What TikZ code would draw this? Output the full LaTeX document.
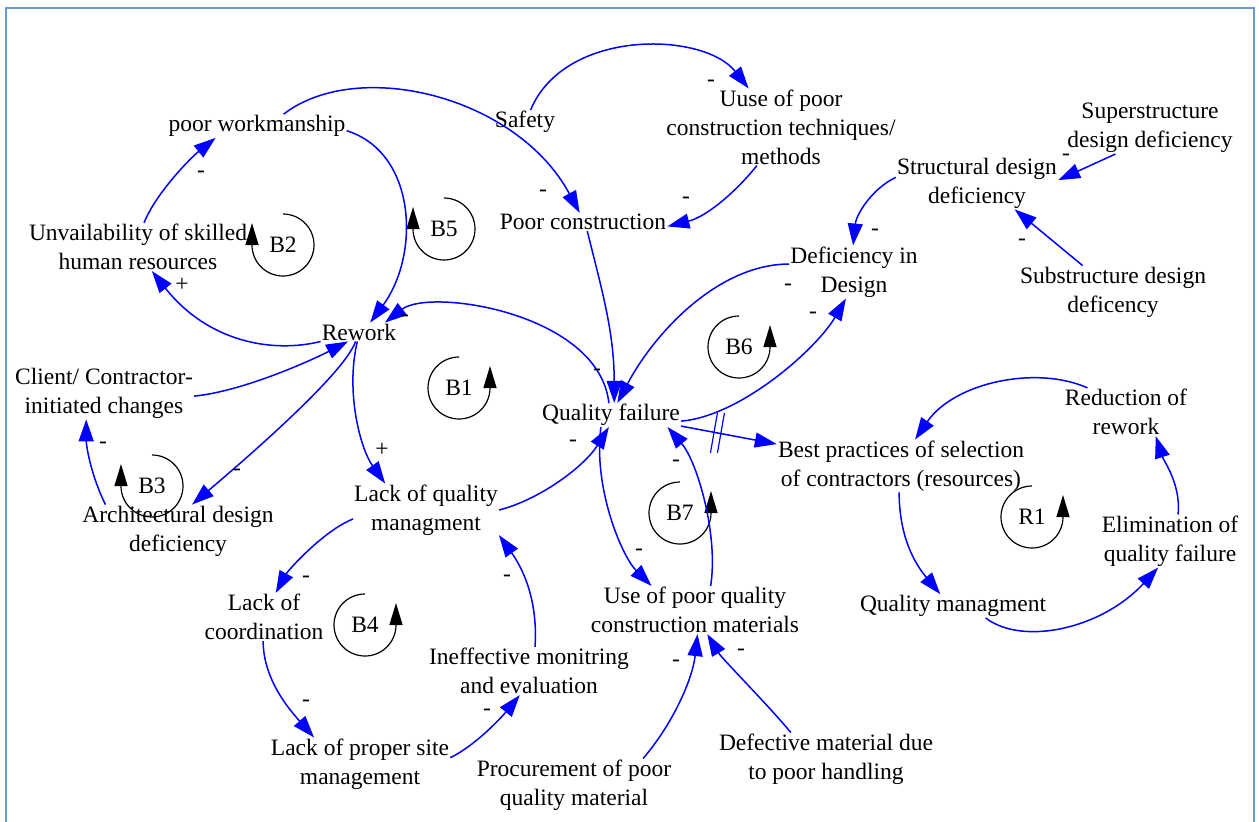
\documentclass[tikz,border=0pt]{standalone}
\usepackage{fontspec}
\setmainfont{Liberation Serif}
\usepackage{tikz}
\usetikzlibrary{arrows.meta}
\definecolor{framebl}{RGB}{108,152,210}
\tikzset{
  var/.style={align=center, inner sep=1pt, font=\fontsize{23.5}{29}\selectfont},
  pol/.style={inner sep=0pt, font=\fontsize{23.5}{29}\selectfont},
  lnk/.style={blue, line width=1.5pt, -{Triangle[length=22pt,width=15pt]}},
  loopm/.style={line width=1.2pt, -{Triangle[length=22pt,width=13pt]}},
  dlymark/.style={blue, line width=1.2pt},
}

\begin{document}
\begin{tikzpicture}[x=1pt, y=1pt]
\useasboundingbox (0,0) rectangle (1259,-822);
\draw[framebl, line width=2pt] (6,-822) -- (6,-8) -- (1254,-8) -- (1254,-822);

\node[var] (work) at (257,-126) {poor workmanship};
\node[var] (safety) at (525,-122) {Safety};
\node[var] (tech) at (781,-127) {Uuse of poor\\construction techniques/\\methods};
\node[var] (super) at (1150,-128) {Superstructure\\design deficiency};
\node[var] (struct) at (977,-183) {Structural design\\deficiency};
\node[var] (skill) at (138,-247) {Unvailability of skilled\\human resources};
\node[var] (poorcon) at (583,-222) {Poor construction};
\node[var] (defdes) at (854,-272) {Deficiency in\\Design};
\node[var] (sub) at (1113,-292) {Substructure design\\deficency};
\node[var] (rework) at (359,-332) {Rework};
\node[var] (client) at (104,-393) {Client/ Contractor-\\initiated changes};
\node[var] (qf) at (611,-415) {Quality failure};
\node[var] (reduc) at (1126,-412) {Reduction of\\rework};
\node[var] (best) at (901,-466) {Best practices of selection\\of contractors (resources)};
\node[var] (lqm) at (426,-510) {Lack of quality\\managment};
\node[var] (arch) at (178,-531) {Architectural design\\deficiency};
\node[var] (elim) at (1170,-541) {Elimination of\\quality failure};
\node[var] (coord) at (264,-617) {Lack of\\coordination};
\node[var] (usemat) at (695,-610) {Use of poor quality\\construction materials};
\node[var] (qm) at (953,-606) {Quality managment};
\node[var] (monit) at (529,-671) {Ineffective monitring\\and evaluation};
\node[var] (site) at (360,-764) {Lack of proper site\\management};
\node[var] (procure) at (574,-785) {Procurement of poor\\quality material};
\node[var] (defect) at (826,-759) {Defective material due\\to poor handling};

% loop markers
\foreach \nm/\px/\py in {B2/283/245, B5/444/229, B3/152/486}{
  \node[var] (\nm) at (\px,-\py) {\nm};
  \draw[loopm] (\nm.center) ++(90:31) arc[start angle=90, end angle=-180, radius=31] -- ++(0,22);
}
\foreach \nm/\px/\py in {B1/459/388, B6/739/347, B7/680/513, B4/365/625, R1/1032/517}{
  \node[var] (\nm) at (\px,-\py) {\nm};
  \draw[loopm] (\nm.center) ++(90:31) arc[start angle=90, end angle=360, radius=31] -- ++(0,22);
}

% links
\draw[lnk] (skill.76) .. controls +(12,30) and +(-25,-20) .. (work.196);
\draw[lnk] (work.-3) .. controls +(70,-22) and +(50,68) .. (rework.40);
\draw[lnk] (work.24) .. controls +(74,57) and +(-63,117) .. (poorcon.110);
\draw[lnk] (safety.65) .. controls +(34,82) and +(-45,57) .. (tech.130);
\draw[lnk] (tech.238) .. controls +(-20,-25) and +(40,10) .. (poorcon.-3);
\draw[lnk] (poorcon.-65) .. controls +(15,-60) and +(0,70) .. (qf.75);
\draw[lnk] (defdes.173) .. controls +(-71,0) and +(37,70) .. (qf.62);
\draw[lnk] (qf.100) .. controls +(-10,90) and +(45,35) .. (rework.20);
\draw[lnk] (qf.-5) .. controls +(60,5) and +(-29,-50) .. (defdes.-107);
\draw[lnk] (qf.-9) -- coordinate[pos=.38] (dly) (best.170);
\draw[dlymark] (dly) ++(-3.5,0) +(3.5,20) -- +(-3.5,-20);
\draw[dlymark] (dly) ++(3.5,0) +(3.5,20) -- +(-3.5,-20);
\draw[lnk] (reduc.148) .. controls +(-51,23) and +(39,57) .. (best.62);
\draw[lnk] (best.-94) .. controls +(0,-45) and +(-25,30) .. (qm.137);
\draw[lnk] (qm.-20) .. controls +(36,-28) and +(-57,-62) .. (elim.-114);
\draw[lnk] (elim.73) .. controls +(3,30) and +(8,-25) .. (reduc.-39);
\draw[lnk] (struct.176) .. controls +(-25,-12) and +(3,30) .. (defdes.92);
\draw[lnk] (super.217) -- (struct.2);
\draw[lnk] (sub.139) -- (struct.-35);
\draw[lnk] (rework.south west) .. controls +(-48,-12) and +(56,-71) .. (skill.-60);
\draw[lnk] (client.-2) .. controls +(50,5) and +(-35,-18) .. (rework.-139);
\draw[lnk] (arch.160) .. controls +(-15,30) and +(0,-25) .. (client.-124);
\draw[lnk] (rework.-110) .. controls +(-12,-35) and +(35,30) .. (arch.62);
\draw[lnk] (rework.-100) .. controls +(-12,-50) and +(-25,35) .. (lqm.147);
\draw[lnk] (lqm.east) .. controls +(40,10) and +(-25,-40) .. (qf.-100);
\draw[lnk] (qf.-130) .. controls +(-8,-60) and +(-30,30) .. (usemat.151);
\draw[lnk] (usemat.57) .. controls +(8,50) and +(30,-35) .. (qf.-12);
\draw[lnk] (lqm.-173) .. controls +(-30,-12) and +(12,22) .. (coord.64);
\draw[lnk] (coord.-92) .. controls +(0,-40) and +(-22,25) .. (site.150);
\draw[lnk] (site.4) .. controls +(25,12) and +(-18,-22) .. (monit.-111);
\draw[lnk] (monit.76) .. controls +(3,45) and +(25,-35) .. (lqm.-19);
\draw[lnk] (procure.21) .. controls +(30,35) and +(-5,-45) .. (usemat.-84);
\draw[lnk] (defect.143) .. controls +(-25,30) and +(15,-25) .. (usemat.-63);

% polarities
\foreach \px/\py [count=\i] in {201/174, 405/318, 543/193, 711/83, 686/200, 875/232,
    1066/157, 1022/242, 788/287, 813/315, 597/372, 103/445, 237/472, 573/443,
    639/552, 676/463, 306/579, 306/703, 487/712, 507/578, 676/663, 741/652}
  \node[pol] (neg\i) at (\px,-\py) {-};
\foreach \px/\py [count=\i] in {182/285, 382/450}
  \node[pol] (pos\i) at (\px,-\py) {+};
\end{tikzpicture}
\end{document}
